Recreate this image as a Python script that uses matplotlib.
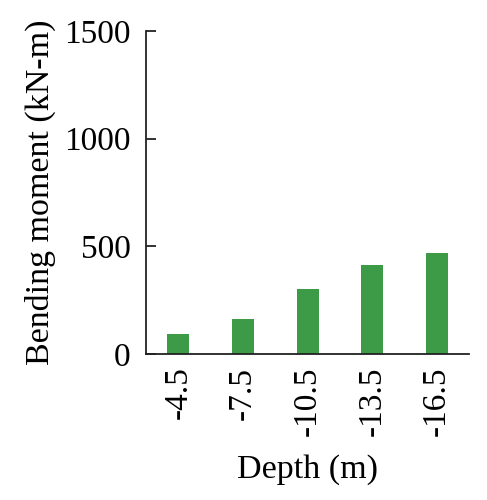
import matplotlib
matplotlib.use("Agg")
import matplotlib.pyplot as plt

depths = ["-4.5", "-7.5", "-10.5", "-13.5", "-16.5"]
moments = [91, 161, 300, 413, 470]
yticks = [0, 500, 1000, 1500]

plt.rcParams['font.family'] = ['Liberation Serif', 'DejaVu Serif']

fig = plt.figure(figsize=(4.87, 5.0), dpi=100)
ax = fig.add_axes([0.2998, 0.292, 0.6639, 0.646])
x = list(range(len(depths)))
ax.bar(x, moments, width=0.34, color='#3d9a47', zorder=2)
ax.set_xlim(-0.5, 4.5)
ax.set_ylim(0, 1500)
ax.set_yticks(yticks)
ax.set_yticklabels([str(v) for v in yticks])
ax.set_xticks(x)
ax.set_xticklabels(depths, rotation=90)
for s in ['top', 'right']:
    ax.spines[s].set_visible(False)
for s in ['left', 'bottom']:
    ax.spines[s].set_linewidth(1.3)
    ax.spines[s].set_color('#222222')
ax.tick_params(axis='y', direction='in', length=7, width=1.3, labelsize=24, pad=11, color='#222222')
ax.tick_params(axis='x', length=0, labelsize=24, pad=9)
ax.set_xlabel('Depth (m)', fontsize=24.5, labelpad=13)
ax.set_ylabel('Bending moment (kN-m)', fontsize=24.5, labelpad=6)
fig.savefig('out.png', dpi=100)
